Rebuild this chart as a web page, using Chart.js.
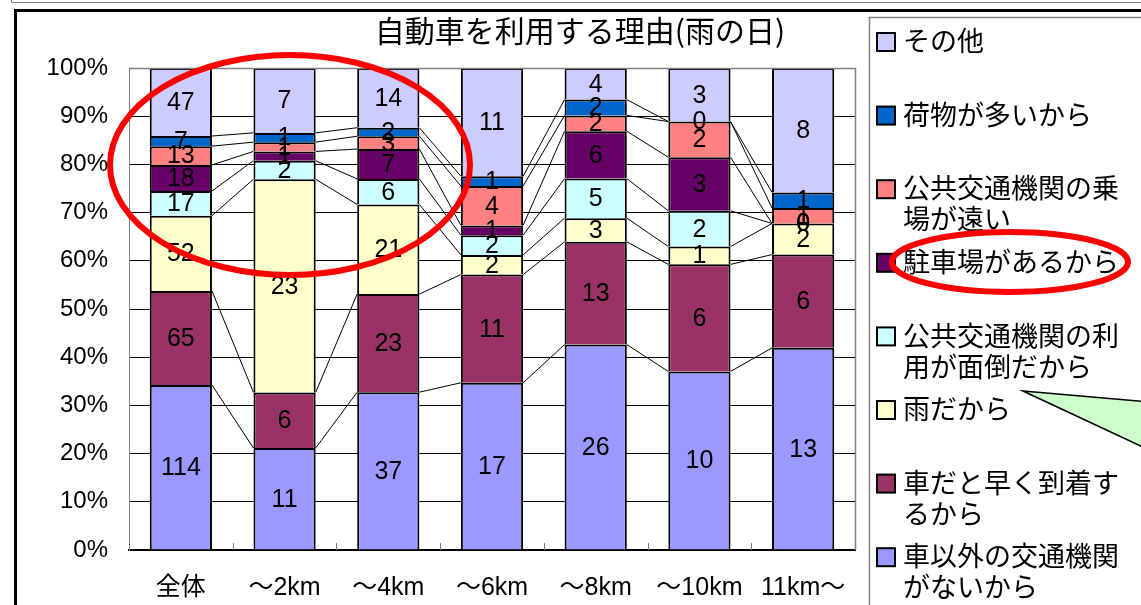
<!DOCTYPE html>
<html>
<head>
<meta charset="utf-8">
<script src="https://cdn.jsdelivr.net/npm/chart.js@4.4.1/dist/chart.umd.min.js"></script>
<style>
html,body{margin:0;padding:0;background:#fff;overflow:hidden}
#wrap{width:1141px;height:605px;position:relative}
</style>
</head>
<body>
<div id="wrap"><canvas id="c" width="1141" height="605"></canvas></div>
<script>
// ---- data ----
const chartTitle = '自動車を利用する理由(雨の日)';
const categories = ['全体', '～2km', '～4km', '～6km', '～8km', '～10km', '11km～'];
const seriesNames = [
  '車以外の交通機関がないから',
  '車だと早く到着するから',
  '雨だから',
  '公共交通機関の利用が面倒だから',
  '駐車場があるから',
  '公共交通機関の乗場が遠い',
  '荷物が多いから',
  'その他'
];
const seriesColors = ['#9999FF', '#993366', '#FFFFCC', '#CCFFFF', '#660066', '#FF8080', '#0066CC', '#CCCCFF'];
const noOtherMode = [114, 11, 37, 17, 26, 10, 13];
const fasterByCar = [65, 6, 23, 11, 13, 6, 6];
const becauseRain = [52, 23, 21, 2, 3, 1, 2];
const transitBother = [17, 2, 6, 2, 5, 2, 0];
const hasParking = [18, 1, 7, 1, 6, 3, 0];
const stopFar = [13, 1, 3, 4, 2, 2, 1];
const muchLuggage = [7, 1, 2, 1, 2, 0, 1];
const others = [47, 7, 14, 11, 4, 3, 8];
const yTickLabels = ['0%', '10%', '20%', '30%', '40%', '50%', '60%', '70%', '80%', '90%', '100%'];

const seriesCounts = [noOtherMode, fasterByCar, becauseRain, transitBother, hasParking, stopFar, muchLuggage, others];

// ---- 100% stacking (share of each category total) ----
const totals = categories.map((_, j) => seriesCounts.reduce((s, arr) => s + arr[j], 0));
const datasets = seriesCounts.map((arr, i) => ({
  label: seriesNames[i],
  counts: arr,
  data: arr.map((v, j) => v / totals[j] * 100),
  backgroundColor: seriesColors[i],
  borderColor: '#000',
  borderWidth: 2,
  borderSkipped: 'start',
  barPercentage: 0.6,
  categoryPercentage: 1
}));

const LATIN = '"Liberation Sans", Arial, "Noto Sans CJK JP", sans-serif';
const CJK = '"Noto Sans CJK JP", "Noto Sans CJK SC", sans-serif';

function wrapText(ctx, text, maxW) {
  const lines = [];
  let cur = '';
  for (const ch of text) {
    if (cur && ctx.measureText(cur + ch).width > maxW) { lines.push(cur); cur = ch; }
    else cur += ch;
  }
  if (cur) lines.push(cur);
  return lines;
}

const deco = {
  id: 'deco',
  beforeDraw(chart) {
    const ctx = chart.ctx;
    ctx.save();
    ctx.fillStyle = '#fff';
    ctx.fillRect(0, 0, chart.width, chart.height);
    ctx.strokeStyle = '#808080';
    ctx.lineWidth = 1;
    ctx.beginPath();
    ctx.moveTo(11.5, 0); ctx.lineTo(11.5, 2.5); ctx.lineTo(chart.width, 2.5);
    ctx.stroke();
    ctx.strokeStyle = '#000';
    ctx.lineWidth = 3;
    ctx.strokeRect(15.5, 10.5, 3000, 3000);
    ctx.restore();
  },
  afterDatasetsDraw(chart) {
    const ctx = chart.ctx;
    const n = chart.data.datasets.length;
    ctx.save();
    ctx.strokeStyle = '#000';
    ctx.lineWidth = 1;
    for (let i = 0; i < n - 1; i++) {
      const meta = chart.getDatasetMeta(i);
      for (let j = 0; j < meta.data.length - 1; j++) {
        const a = meta.data[j], b = meta.data[j + 1];
        ctx.beginPath();
        ctx.moveTo(a.x + a.width / 2, a.y);
        ctx.lineTo(b.x - b.width / 2, b.y);
        ctx.stroke();
      }
    }
    ctx.fillStyle = '#000';
    ctx.font = '25px ' + LATIN;
    ctx.textAlign = 'center';
    ctx.textBaseline = 'middle';
    for (let i = 0; i < n; i++) {
      const meta = chart.getDatasetMeta(i);
      const ds = chart.data.datasets[i];
      meta.data.forEach((el, j) => {
        ctx.fillText(String(ds.counts[j]), el.x, (el.y + el.base) / 2 + 1);
      });
    }
    ctx.restore();
  },
  afterDraw(chart) {
    const ctx = chart.ctx;
    const ca = chart.chartArea;
    const xs = chart.scales.x;
    ctx.save();
    ctx.strokeStyle = '#808080';
    ctx.lineWidth = 1.5;
    ctx.beginPath();
    ctx.moveTo(ca.left, ca.top + 0.5); ctx.lineTo(ca.right + 0.5, ca.top + 0.5); ctx.lineTo(ca.right + 0.5, ca.bottom);
    ctx.stroke();
    ctx.lineWidth = 1;
    for (let j = 1; j < categories.length; j++) {
      const bx = Math.round((xs.getPixelForValue(j - 1) + xs.getPixelForValue(j)) / 2) + 0.5;
      ctx.beginPath(); ctx.moveTo(bx, ca.bottom); ctx.lineTo(bx, ca.bottom - 7); ctx.stroke();
    }
    // title
    ctx.fillStyle = '#000';
    ctx.font = '30px ' + CJK;
    ctx.textAlign = 'center';
    ctx.textBaseline = 'middle';
    ctx.fillText(chartTitle, 580, 31);
    // legend frame
    ctx.strokeStyle = '#808080';
    ctx.lineWidth = 1.5;
    ctx.strokeRect(869.5, 17.5, 1000, 1000);
    ctx.font = '27px ' + CJK;
    ctx.textAlign = 'left';
    const n = seriesNames.length;
    for (let k = 0; k < n; k++) {
      const idx = n - 1 - k;
      const y = 41 + k * 73.6;
      ctx.fillStyle = seriesColors[idx];
      ctx.fillRect(877, y - 8, 18, 18);
      ctx.strokeStyle = '#000';
      ctx.lineWidth = 2;
      ctx.strokeRect(877, y - 8, 18, 18);
      ctx.fillStyle = '#000';
      const lines = wrapText(ctx, seriesNames[idx], 232);
      lines.forEach((ln, li) => ctx.fillText(ln, 903, y + li * 31));
    }
    // red ellipses
    ctx.strokeStyle = '#FF0000';
    ctx.lineWidth = 6;
    ctx.beginPath(); ctx.ellipse(290, 165, 180, 110, 0, 0, Math.PI * 2); ctx.stroke();
    ctx.beginPath(); ctx.ellipse(1010, 262, 118, 30, 0, 0, Math.PI * 2); ctx.stroke();
    // green callout pointer
    ctx.fillStyle = '#CCFFCC';
    ctx.strokeStyle = '#000';
    ctx.lineWidth = 1.5;
    ctx.beginPath();
    ctx.moveTo(1023, 391); ctx.lineTo(1160, 403); ctx.lineTo(1160, 455); ctx.closePath();
    ctx.fill(); ctx.stroke();
    ctx.restore();
  }
};

new Chart(document.getElementById('c'), {
  type: 'bar',
  data: { labels: categories, datasets },
  plugins: [deco],
  options: {
    responsive: false,
    animation: false,
    devicePixelRatio: 1,
    layout: { padding: { left: 20, top: 68, right: 286, bottom: 0 } },
    plugins: { legend: { display: false }, tooltip: { enabled: false }, title: { display: false } },
    scales: {
      x: {
        stacked: true,
        grid: { display: false, drawTicks: false },
        border: { display: true, color: '#000', width: 2 },
        ticks: { padding: 23, color: '#000', maxRotation: 0, autoSkip: false, font: { family: LATIN, size: 25 } },
        afterFit: s => { s.height = 55; }
      },
      y: {
        stacked: true,
        min: 0,
        max: 100,
        grid: { color: '#000', lineWidth: 1, drawTicks: false },
        border: { display: true, color: '#808080', width: 1 },
        ticks: {
          stepSize: 10, padding: 21, color: '#000',
          font: { family: '"Liberation Sans Narrow", "Liberation Sans", Arial, sans-serif', size: 24 },
          callback: (v, i) => yTickLabels[i]
        },
        afterFit: s => { s.width = 109; }
      }
    }
  }
});
</script>
</body>
</html>
